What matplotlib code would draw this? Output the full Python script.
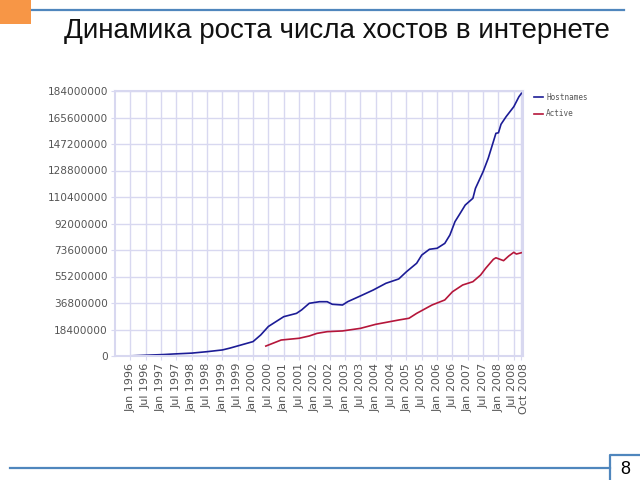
import matplotlib
matplotlib.use("Agg")
import matplotlib.pyplot as plt
import matplotlib.transforms as mtransforms
from matplotlib.lines import Line2D
from matplotlib.patches import Rectangle

# Netcraft survey, values in millions
host_dates = ["1995-08", "1996-01", "1996-08", "1997-02", "1997-06", "1998-01", "1998-07",
              "1999-01", "1999-04", "1999-09", "2000-01", "2000-04", "2000-07", "2001-01",
              "2001-06", "2001-08", "2001-11", "2002-03", "2002-06", "2002-08", "2002-12",
              "2003-02", "2003-07", "2003-12", "2004-05", "2004-10", "2005-01", "2005-05",
              "2005-07", "2005-10", "2006-01", "2006-04", "2006-06", "2006-08", "2006-10",
              "2006-12", "2007-03", "2007-04", "2007-07", "2007-09", "2007-11", "2007-12",
              "2008-01", "2008-02", "2008-04", "2008-07", "2008-09", "2008-10"]
host_values = [0.02, 0.1, 0.6, 1.0, 1.4, 2.0, 3.0,
               4.2, 5.5, 8.0, 10.0, 14.6, 20.5, 27.3,
               29.6, 32.0, 36.6, 37.7, 37.7, 35.9, 35.4,
               37.7, 41.7, 45.8, 50.5, 53.5, 58.5, 64.4,
               70.1, 74.1, 74.8, 78.2, 84.0, 93.3, 99.0,
               104.8, 109.5, 116.4, 128.0, 137.3, 148.8, 154.6,
               155.0, 160.9, 166.2, 173.1, 180.0, 182.4]

active_dates = ["2000-06", "2000-12", "2001-07", "2001-11", "2002-02", "2002-06", "2002-12",
                "2003-07", "2004-01", "2004-10", "2005-02", "2005-05", "2005-11", "2006-04",
                "2006-07", "2006-11", "2007-03", "2007-06", "2007-08", "2007-11", "2007-12",
                "2008-03", "2008-05", "2008-07", "2008-08", "2008-10"]
active_values = [6.9, 11.1, 12.3, 13.9, 15.7, 16.9, 17.4,
                 19.2, 22.0, 25.0, 26.2, 29.6, 35.4, 38.9,
                 44.6, 49.3, 51.6, 56.2, 60.9, 67.1, 68.2,
                 66.2, 69.4, 72.0, 70.8, 71.7]

y_ticks = [0, 18400000, 36800000, 55200000, 73600000, 92000000,
           110400000, 128800000, 147200000, 165600000, 184000000]
tick_dates = [f"{y}-{m:02d}" for y in range(1996, 2009) for m in (1, 7)] + ["2008-10"]
tick_labels = [f"{'Jan' if m == 1 else 'Jul'} {y}" for y in range(1996, 2009) for m in (1, 7)] + ["Oct 2008"]

title = "Динамика роста числа хостов в интернете"


def to_year(s):
    y, m = s.split("-")
    return int(y) + (int(m) - 1) / 12


grid_c = "#d8d8f0"
blue = "#1c1c96"
red = "#b5163a"
deco = "#4f86bd"

fig = plt.figure(figsize=(6.4, 4.8), dpi=100)

# slide decorations
fig.patches.append(Rectangle((0, 480 - 24), 31, 24, transform=None, facecolor="#f79646",
                             edgecolor="none"))
fig.lines.append(Line2D([32, 624], [470, 470], transform=None, color=deco, lw=1.6))
fig.lines.append(Line2D([10, 610], [12, 12], transform=None, color=deco, lw=1.6))
fig.lines.append(Line2D([610, 610, 640], [0, 25, 25], transform=None, color=deco, lw=1.6))
fig.text(625 / 640, 1 - 469 / 480, "8", ha="center", va="center", fontsize=13,
         family="Liberation Sans")
fig.text(337 / 640, 1 - 31 / 480, title, ha="center", va="center", fontsize=20,
         family="Liberation Sans", color="#111111")

ax = fig.add_axes([115 / 640, 1 - 356 / 480, 408 / 640, 265 / 480])
ax.plot([to_year(d) for d in host_dates], [v * 1e6 for v in host_values], color=blue,
        lw=1.2, label="Hostnames")
ax.plot([to_year(d) for d in active_dates], [v * 1e6 for v in active_values], color=red,
        lw=1.2, label="Active")

ax.set_xlim(1995.5, 2008.8)
ax.set_ylim(0, 184000000)
ax.set_yticks(y_ticks)
ax.set_yticklabels([str(v) for v in y_ticks])
ax.set_xticks([to_year(d) for d in tick_dates])
ax.set_xticklabels(tick_labels, rotation=90)
ax.grid(True, color=grid_c, lw=1.0)
ax.set_axisbelow(True)
for sp in ax.spines.values():
    sp.set_color(grid_c)
    sp.set_linewidth(1.5)
ax.tick_params(axis="both", length=3, color=grid_c, labelcolor="#555555", pad=2)
ax.tick_params(axis="y", labelsize=7.6)
ax.tick_params(axis="x", labelsize=8.0)

# Jul 2008 and Oct 2008 sit very close together, nudge them apart a bit
xl = ax.get_xticklabels()
xl[-2].set_transform(xl[-2].get_transform() + mtransforms.ScaledTranslation(-1.5 / 100, 0, fig.dpi_scale_trans))
xl[-1].set_transform(xl[-1].get_transform() + mtransforms.ScaledTranslation(2.5 / 100, 0, fig.dpi_scale_trans))

leg = ax.legend(loc="upper left", bbox_to_anchor=(1.01, 1.02), frameon=False,
                handlelength=1.2, handletextpad=0.4, labelspacing=1.0,
                prop={"family": "DejaVu Sans Mono", "size": 5.5})
for t in leg.get_texts():
    t.set_color("#555555")

fig.savefig("out.png", dpi=100)
